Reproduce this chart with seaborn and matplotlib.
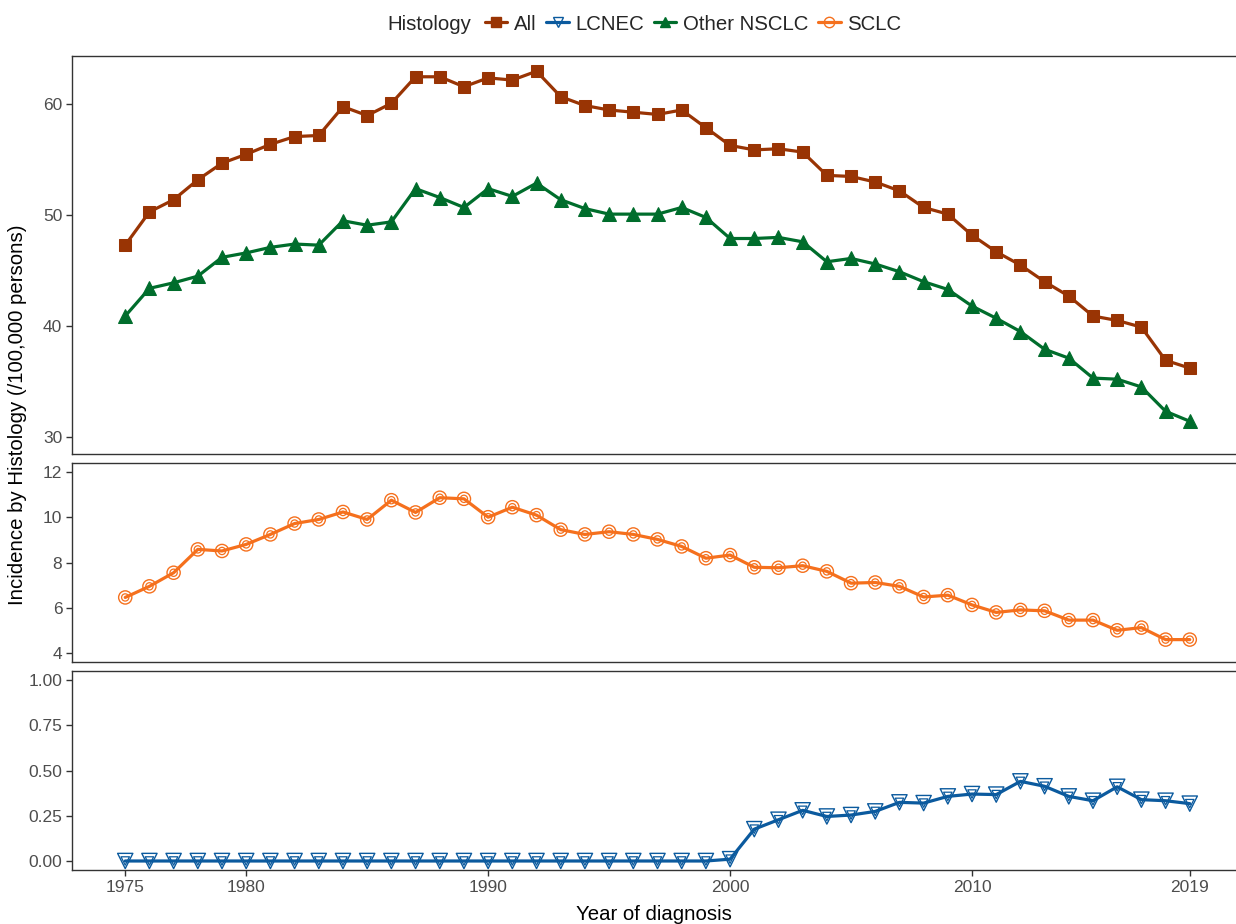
import numpy as np
import pandas as pd
import matplotlib
matplotlib.use('Agg')
import matplotlib.pyplot as plt
from matplotlib.lines import Line2D
import seaborn as sns

# Incidence by histology, per 100,000 persons, 1975-2019
years = list(range(1975, 2020))

all_vals = [47.3, 50.3, 51.4, 53.2, 54.7, 55.5, 56.4, 57.1, 57.2, 59.8,
            59.0, 60.1, 62.5, 62.5, 61.6, 62.4, 62.2, 63.0, 60.7, 59.9,
            59.5, 59.3, 59.1, 59.5, 57.9, 56.3, 55.9, 56.0, 55.7, 53.6,
            53.5, 53.0, 52.2, 50.7, 50.1, 48.2, 46.7, 45.5, 44.0, 42.7,
            40.9, 40.5, 39.9, 36.9, 36.2]

nsclc_vals = [40.9, 43.4, 43.9, 44.5, 46.2, 46.6, 47.1, 47.4, 47.3, 49.5,
              49.1, 49.4, 52.4, 51.6, 50.7, 52.4, 51.7, 52.9, 51.4, 50.6,
              50.1, 50.1, 50.1, 50.7, 49.8, 47.9, 47.9, 48.0, 47.6, 45.8,
              46.1, 45.6, 44.9, 44.0, 43.3, 41.8, 40.7, 39.5, 37.9, 37.1,
              35.3, 35.2, 34.5, 32.3, 31.4]

sclc_vals = [6.47, 6.96, 7.56, 8.59, 8.52, 8.81, 9.25, 9.73, 9.91, 10.24,
             9.91, 10.76, 10.22, 10.87, 10.82, 10.01, 10.45, 10.10, 9.46, 9.25,
             9.37, 9.25, 9.03, 8.72, 8.20, 8.34, 7.80, 7.78, 7.87, 7.62,
             7.10, 7.13, 6.96, 6.49, 6.57, 6.14, 5.81, 5.92, 5.88, 5.47,
             5.47, 5.02, 5.14, 4.61, 4.61]

lcnec_vals = [0.0] * 25 + [0.01, 0.176, 0.228, 0.280, 0.246, 0.254, 0.274,
                           0.324, 0.320, 0.357, 0.370, 0.367, 0.440, 0.413,
                           0.357, 0.333, 0.410, 0.339, 0.333, 0.317]

histologies = ['All', 'LCNEC', 'Other NSCLC', 'SCLC']
colors = {'All': '#993404', 'LCNEC': '#0B5A9E', 'Other NSCLC': '#006D2C', 'SCLC': '#F5701D'}
x_breaks = [1975, 1980, 1990, 2000, 2010, 2019]

df = pd.DataFrame({
    'year': years * 4,
    'value': all_vals + lcnec_vals + nsclc_vals + sclc_vals,
    'histology': np.repeat(histologies, len(years)),
})

sns.set_style('white')
plt.rcParams['font.family'] = ['Liberation Sans', 'DejaVu Sans']

fig = plt.figure(figsize=(12.36, 9.24), dpi=100)
left, width = 72 / 1236, 1171 / 1236
ax_top = fig.add_axes([left, 0.5087, width, 0.4310])
ax_mid = fig.add_axes([left, 0.2835, width, 0.2154])
ax_bot = fig.add_axes([left, 0.0584, width, 0.2154])

lw = 2.3
title_fs = 14.7
tick_fs = 12.5


def draw(ax, name, marker, filled, size, inner=False):
    sub = df[df['histology'] == name]
    c = colors[name]
    if filled:
        sns.lineplot(data=sub, x='year', y='value', ax=ax, color=c, lw=lw,
                     marker=marker, markersize=size, markeredgecolor=c,
                     markerfacecolor=c, legend=False)
    else:
        sns.lineplot(data=sub, x='year', y='value', ax=ax, color=c, lw=lw, legend=False)
        sns.scatterplot(data=sub, x='year', y='value', ax=ax, marker=marker, s=size ** 2,
                        facecolor='none', edgecolor=c, linewidth=1.0, legend=False, zorder=3)
        if inner:
            sns.scatterplot(data=sub, x='year', y='value', ax=ax, marker=marker, s=(size * 0.55) ** 2,
                            facecolor='none', edgecolor=c, linewidth=0.9, legend=False, zorder=3)


draw(ax_top, 'All', 's', True, size=9)
draw(ax_top, 'Other NSCLC', '^', True, size=10)
draw(ax_mid, 'SCLC', 'o', False, size=9.5, inner=True)
draw(ax_bot, 'LCNEC', 'v', False, size=11, inner=True)

ax_top.set_ylim(28.45, 64.4)
ax_top.set_yticks([30, 40, 50, 60])
ax_mid.set_ylim(3.62, 12.4)
ax_mid.set_yticks([4, 6, 8, 10, 12])
ax_bot.set_ylim(-0.05, 1.05)
ax_bot.set_yticks([0, 0.25, 0.5, 0.75, 1.0])
ax_bot.set_yticklabels(['0.00', '0.25', '0.50', '0.75', '1.00'])

for ax in (ax_top, ax_mid, ax_bot):
    ax.set_xlim(1972.8, 2021.2)
    ax.set_xlabel('')
    ax.set_ylabel('')
    for s in ax.spines.values():
        s.set_visible(True)
        s.set_color('#333333')
        s.set_linewidth(1.0)
    ax.tick_params(axis='y', length=4, width=1, color='#333333', labelsize=tick_fs,
                   labelcolor='#4D4D4D', pad=3, left=True)
    if ax is ax_bot:
        ax.set_xticks(x_breaks)
        ax.tick_params(axis='x', length=4, width=1, color='#333333', labelsize=tick_fs,
                       labelcolor='#4D4D4D', pad=3, bottom=True)
    else:
        ax.set_xticks([])

fig.text(18 / 1236, 1 - 415 / 924, 'Incidence by Histology (/100,000 persons)',
         rotation=90, ha='center', va='center', fontsize=title_fs, color='black')
fig.text(654 / 1236, 1 - 915 / 924, 'Year of diagnosis', ha='center', va='center',
         fontsize=title_fs, color='black')

# legend along the top
handles = []
for name, m, filled in [('All', 's', True), ('LCNEC', 'v', False),
                        ('Other NSCLC', '^', True), ('SCLC', 'o', False)]:
    c = colors[name]
    handles.append(Line2D([0], [0], color=c, lw=lw, marker=m, markersize=7.5,
                          markeredgecolor=c, markerfacecolor=c if filled else 'none'))
fig.text(387 / 1236, 1 - 24 / 924, 'Histology', ha='left', va='center', fontsize=title_fs)
fig.legend(handles=handles, labels=histologies, loc='center left',
           bbox_to_anchor=(485 / 1236, 1 - 24 / 924), ncol=4, frameon=False,
           fontsize=title_fs, handlelength=1.1, handletextpad=0.3, columnspacing=0.5,
           borderaxespad=0, borderpad=0)

fig.savefig('out.png', dpi=100)
